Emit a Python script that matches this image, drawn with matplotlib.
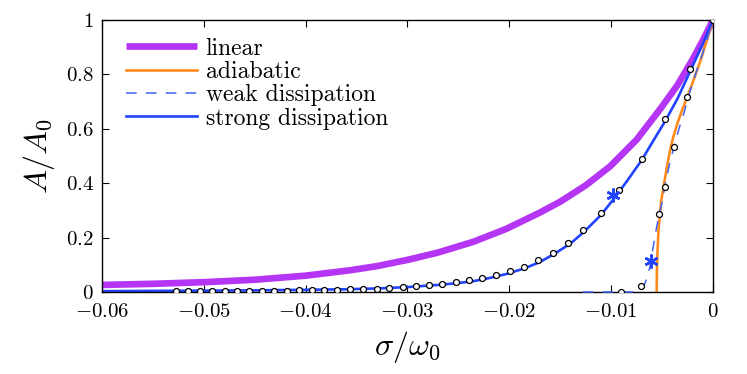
import numpy as np
import matplotlib
matplotlib.use('Agg')
import matplotlib.pyplot as plt

# -------------------------------
# Data
# -------------------------------
# linear response
sig_lin = [-0.060, -0.055, -0.050, -0.045, -0.040, -0.0356, -0.033, -0.030, -0.027,
           -0.0235, -0.0203, -0.017, -0.015, -0.0125, -0.0101, -0.0075, -0.0052,
           -0.0035, -0.0020, -0.0010, 0.0]
amp_lin = [0.026, 0.030, 0.036, 0.045, 0.060, 0.080, 0.095, 0.118, 0.145,
           0.185, 0.232, 0.292, 0.332, 0.392, 0.462, 0.560, 0.672,
           0.760, 0.855, 0.925, 1.0]

# adiabatic
sig_adi = [-0.00553, -0.00552, -0.00550, -0.00547, -0.00543, -0.00538, -0.00533, -0.00520,
           -0.00508, -0.00495, -0.00484, -0.00455, -0.00422, -0.00390, -0.00350, -0.00307,
           -0.00250, -0.00190, -0.00128, -0.00065, 0.0]
amp_adi = [0.0, 0.05, 0.093, 0.130, 0.167, 0.205, 0.240, 0.287,
           0.338, 0.365, 0.390, 0.455, 0.520, 0.570, 0.620, 0.665,
           0.720, 0.780, 0.845, 0.920, 1.0]

# weak dissipation (dashed)
sig_weak = [-0.0128, -0.0080, -0.0074, -0.0070, -0.0067, -0.0065, -0.0063, -0.0061,
            -0.0059, -0.0057, -0.0055, -0.00527, -0.0050, -0.00474, -0.0045, -0.00422,
            -0.00383, -0.0035, -0.00314, -0.0028, -0.00252, -0.0020, -0.0015, -0.0010,
            -0.0005, 0.0]
amp_weak = [0.0, 0.0, 0.003, 0.010, 0.030, 0.050, 0.075, 0.110,
            0.160, 0.205, 0.245, 0.287, 0.330, 0.387, 0.430, 0.480,
            0.533, 0.580, 0.625, 0.665, 0.705, 0.770, 0.825, 0.880,
            0.940, 1.0]

# strong dissipation (solid)
sig_strong = [-0.060, -0.055, -0.050, -0.045, -0.040, -0.036, -0.033, -0.030, -0.027,
              -0.025, -0.0235, -0.022, -0.0203, -0.0185, -0.017, -0.0155, -0.014,
              -0.0127, -0.011, -0.0098, -0.0085, -0.007, -0.0058, -0.0047, -0.0035,
              -0.00226, -0.0011, 0.0]
amp_strong = [0.003, 0.004, 0.005, 0.006, 0.008, 0.010, 0.013, 0.018, 0.026,
              0.033, 0.040, 0.051, 0.066, 0.087, 0.110, 0.142, 0.178,
              0.220, 0.283, 0.340, 0.405, 0.485, 0.560, 0.628, 0.710,
              0.810, 0.905, 1.0]

# simulation points (open circles)
sig_pts_strong = [-0.05276, -0.05160, -0.05038, -0.04917, -0.04795, -0.04677, -0.04557,
                  -0.04432, -0.04311, -0.04186, -0.04063, -0.03938, -0.03815, -0.03689,
                  -0.03565, -0.03434, -0.03302, -0.03179, -0.03047, -0.02919, -0.02789,
                  -0.02658, -0.02527, -0.02396, -0.02266, -0.02128, -0.01994, -0.01856,
                  -0.01719, -0.01574, -0.01424, -0.01274, -0.01103, -0.00920, -0.00700,
                  -0.00471, -0.00226, 0.0]
amp_pts_strong = [0.002, 0.002, 0.002, 0.003, 0.003, 0.003, 0.004,
                  0.004, 0.005, 0.005, 0.006, 0.007, 0.008, 0.009,
                  0.010, 0.010, 0.012, 0.015, 0.017, 0.021, 0.025,
                  0.029, 0.037, 0.044, 0.053, 0.063, 0.077, 0.093,
                  0.117, 0.145, 0.181, 0.227, 0.289, 0.374, 0.488,
                  0.636, 0.821, 1.0]
sig_pts_weak = [-0.00903, -0.00710, -0.00527, -0.00474, -0.00383, -0.00252]
amp_pts_weak = [0.001, 0.023, 0.287, 0.387, 0.532, 0.718]

# asterisks
sig_star = [-0.0098, -0.00612]
amp_star = [0.357, 0.113]

x_ticks = [-0.06, -0.05, -0.04, -0.03, -0.02, -0.01, 0.0]
x_ticklabels = ['$-0.06$', '$-0.05$', '$-0.04$', '$-0.03$', '$-0.02$', '$-0.01$', '$0$']
y_ticks = [0, 0.2, 0.4, 0.6, 0.8, 1.0]
y_ticklabels = ['$0$', '$0.2$', '$0.4$', '$0.6$', '$0.8$', '$1$']

# -------------------------------
# Style
# -------------------------------
plt.rcParams['font.family'] = 'cmr10'
plt.rcParams['mathtext.fontset'] = 'cm'
plt.rcParams['axes.unicode_minus'] = False

c_lin = '#b535f5'
c_adi = '#ff8a1c'
c_weak = '#3f63f2'
c_strong = '#2244ff'

fig = plt.figure(figsize=(7.47, 3.74), dpi=100)
ax = fig.add_axes([0.1365, 0.2193, 0.818, 0.7272])

ax.plot(sig_lin, amp_lin, color=c_lin, lw=4.8, label='linear', solid_capstyle='butt')
ax.plot(sig_adi, amp_adi, color=c_adi, lw=1.9, label='adiabatic')
ax.plot(sig_weak, amp_weak, color=c_weak, lw=1.1, dashes=(7, 6), label='weak dissipation',
        clip_on=False, zorder=3)
ax.plot(sig_strong, amp_strong, color=c_strong, lw=1.9, label='strong dissipation')

ax.plot(sig_pts_strong, amp_pts_strong, 'o', ms=4.3, mfc='white', mec='black', mew=0.9, zorder=5)
ax.plot(sig_pts_weak, amp_pts_weak, 'o', ms=4.3, mfc='white', mec='black', mew=0.9, zorder=5)
ax.plot(sig_star, amp_star, ls='none', marker=(6, 2, 0), ms=10, mec=c_strong, mew=1.8, zorder=6)

ax.set_xlim(-0.06, 0)
ax.set_ylim(0, 1)
ax.set_xticks(x_ticks)
ax.set_xticklabels(x_ticklabels)
ax.set_yticks(y_ticks)
ax.set_yticklabels(y_ticklabels)
ax.tick_params(direction='in', length=5, width=0.8, labelsize=15, top=True, right=True)
ax.tick_params(axis='x', pad=8)
ax.tick_params(axis='y', pad=6)
for s in ax.spines.values():
    s.set_linewidth(1.0)

ax.set_xlabel(r'$\sigma/\omega_0$', fontsize=23, labelpad=6)
ax.set_ylabel(r'$A/A_0$', fontsize=23, labelpad=6)

leg = ax.legend(loc='upper left', bbox_to_anchor=(0.013, 0.996), frameon=False, fontsize=17,
                handlelength=3.0, handletextpad=0.35, labelspacing=0.05, borderaxespad=0.3)

plt.savefig('out.png', dpi=100)
